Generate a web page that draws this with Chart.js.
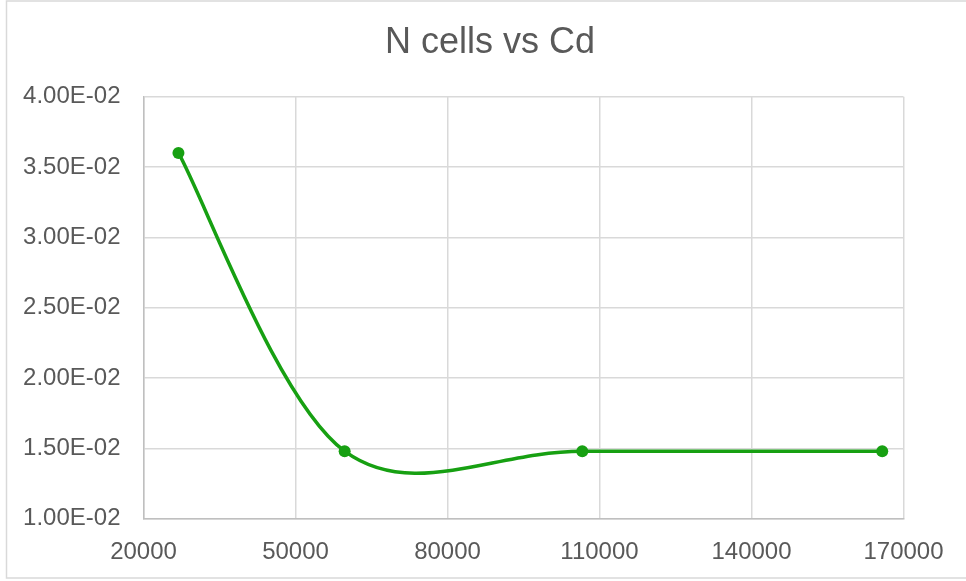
<!DOCTYPE html>
<html>
<head>
<meta charset="utf-8">
<script src="https://cdn.jsdelivr.net/npm/chart.js@4.4.1/dist/chart.umd.min.js"></script>
<style>
  html, body { margin: 0; padding: 0; background: #ffffff; }
  #wrap { position: relative; width: 966px; height: 581px; }
</style>
</head>
<body>
<div id="wrap"><canvas id="c" width="966" height="581"></canvas></div>
<script>
// ---- data ----
const chartTitle = "N cells vs Cd";
const cdValues = [26900, 59700, 106600, 165800];          // x (Cd)
const nCellValues = [0.0360, 0.0148, 0.0148, 0.0148];     // y (N cells)
const xTickValues = [20000, 50000, 80000, 110000, 140000, 170000];
const yTickValues = [0.01, 0.015, 0.02, 0.025, 0.03, 0.035, 0.04];

const points = cdValues.map((x, i) => ({ x: x, y: nCellValues[i] }));

function sciLabel(v) {
  const parts = Number(v).toExponential(2).split('e');
  let exp = parseInt(parts[1], 10);
  const sign = exp < 0 ? '-' : '+';
  exp = Math.abs(exp);
  return parts[0] + 'E' + sign + (exp < 10 ? '0' + exp : String(exp));
}

// white background + outer chart frame
const frame = {
  id: 'frame',
  beforeDraw(chart) {
    const ctx = chart.ctx;
    ctx.save();
    ctx.fillStyle = '#ffffff';
    ctx.fillRect(0, 0, chart.width, chart.height);
    ctx.strokeStyle = '#d9d9d9';
    ctx.lineWidth = 1.5;
    ctx.strokeRect(6.5, 1, 975, 577);
    ctx.restore();
  }
};

// spreadsheet-style smoothing: Catmull-Rom control points (1/6 of neighbour chord)
const smoothLine = {
  id: 'smoothLine',
  beforeDatasetDraw(chart, args) {
    const meta = args.meta;
    if (!meta.dataset) return;
    meta.dataset.updateControlPoints(chart.chartArea, meta.iScale.axis);
    const pts = meta.data;
    const n = pts.length;
    for (let i = 0; i < n; i++) {
      const p = pts[i];
      const prev = pts[Math.max(i - 1, 0)];
      const next = pts[Math.min(i + 1, n - 1)];
      const dx = (next.x - prev.x) / 6;
      const dy = (next.y - prev.y) / 6;
      p.cp1x = p.x - dx; p.cp1y = p.y - dy;
      p.cp2x = p.x + dx; p.cp2y = p.y + dy;
    }
    meta.dataset._path = undefined;
  }
};

const textColor = '#595959';
const fontFam = '"Liberation Sans", Arial, sans-serif';
const green = '#17a012';

new Chart(document.getElementById('c'), {
  type: 'line',
  data: {
    datasets: [{
      data: points,
      borderColor: green,
      backgroundColor: green,
      borderWidth: 3.5,
      pointRadius: 6,
      pointHoverRadius: 6,
      pointBackgroundColor: green,
      pointBorderColor: green,
      pointBorderWidth: 0,
      tension: 0.4,
      fill: false,
      yAxisID: 'y'
    }]
  },
  plugins: [frame, smoothLine],
  options: {
    responsive: false,
    animation: false,
    devicePixelRatio: 1,
    layout: { padding: { left: 14, right: 0, top: 0, bottom: 0 } },
    plugins: {
      legend: { display: false },
      tooltip: { enabled: false },
      title: {
        display: true,
        text: chartTitle,
        color: textColor,
        font: { family: fontFam, size: 36, weight: 'normal' },
        padding: { top: 21, bottom: 32.5 }
      }
    },
    scales: {
      x: {
        type: 'linear',
        min: xTickValues[0],
        max: xTickValues[xTickValues.length - 1],
        afterBuildTicks(scale) { scale.ticks = xTickValues.map(v => ({ value: v })); },
        afterFit(scale) { scale.height = 62.3; },
        ticks: {
          color: textColor,
          font: { family: fontFam, size: 24 },
          padding: 19,
          maxRotation: 0,
          callback: v => String(v)
        },
        grid: { color: '#d9d9d9', lineWidth: 1.5, drawTicks: false },
        border: { color: '#bfbfbf', width: 1.5 }
      },
      y: {
        type: 'linear',
        position: 'left',
        min: yTickValues[0],
        max: yTickValues[yTickValues.length - 1],
        afterBuildTicks(scale) { scale.ticks = yTickValues.map(v => ({ value: v })); },
        afterFit(scale) { scale.width = 129.5; },
        ticks: {
          color: textColor,
          font: { family: fontFam, size: 24 },
          padding: 23,
          callback: v => sciLabel(v)
        },
        grid: { color: '#d9d9d9', lineWidth: 1.5, drawTicks: false },
        border: { color: '#bfbfbf', width: 1.5 }
      },
      spacer: {
        type: 'linear',
        position: 'right',
        display: true,
        afterFit(scale) { scale.width = 62.5; },
        ticks: { display: false },
        grid: { display: false, drawTicks: false },
        border: { display: false }
      }
    }
  }
});
</script>
</body>
</html>
